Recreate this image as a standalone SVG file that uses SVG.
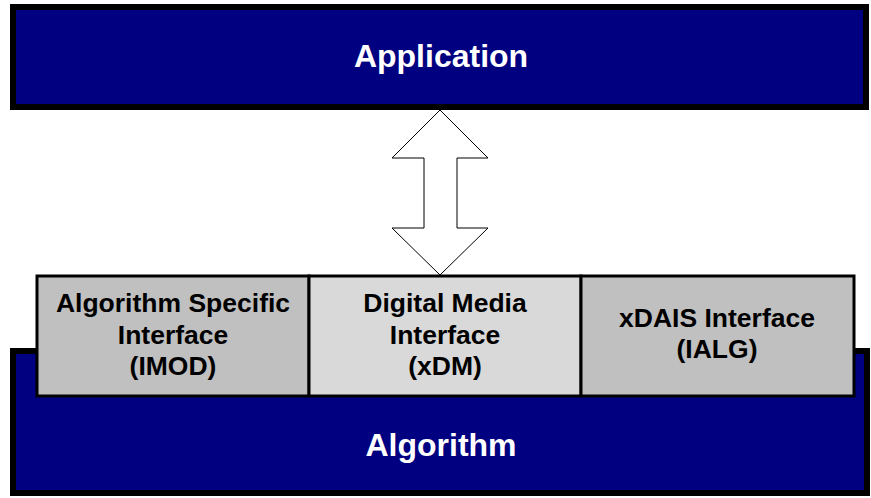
<svg xmlns="http://www.w3.org/2000/svg" width="871" height="498" viewBox="0 0 871 498">
  <style>
    .layer { fill: #000080; stroke: #000000; stroke-width: 6; }
    .iface { stroke: #000000; stroke-width: 3; }
    .gray { fill: #c0c0c0; }
    .light { fill: #d9d9d9; }
    .title { font-family: "Liberation Sans", Arial, sans-serif; font-weight: bold; font-size: 32px; fill: #ffffff; text-anchor: middle; }
    .label { font-family: "Liberation Sans", Arial, sans-serif; font-weight: bold; font-size: 26.5px; fill: #000000; text-anchor: middle; }
    .flow { fill: #ffffff; stroke: #000000; stroke-width: 1; }
  </style>
  <rect width="871" height="498" fill="#ffffff"/>

  <g id="application">
    <rect class="layer" x="13" y="7" width="853" height="100"/>
    <text class="title" x="441" y="67">Application</text>
  </g>

  <g id="algorithm">
    <rect class="layer" x="13" y="351" width="854" height="142"/>
    <text class="title" x="441" y="456">Algorithm</text>
  </g>

  <g id="imod">
    <rect class="iface gray" x="37" y="276" width="272" height="120"/>
    <text class="label" x="173" y="312">Algorithm Specific</text>
    <text class="label" x="173" y="344">Interface</text>
    <text class="label" x="173" y="375">(IMOD)</text>
  </g>

  <g id="xdm">
    <rect class="iface light" x="309" y="276" width="272" height="120"/>
    <text class="label" x="445" y="312">Digital Media</text>
    <text class="label" x="445" y="344">Interface</text>
    <text class="label" x="445" y="375">(xDM)</text>
  </g>

  <g id="ialg">
    <rect class="iface gray" x="581" y="276" width="273" height="120"/>
    <text class="label" x="717" y="327">xDAIS Interface</text>
    <text class="label" x="717" y="358">(IALG)</text>
  </g>

  <g id="connectors">
    <polygon class="flow" points="440,110 488,158 457,158 457,228 488,228 440,275 392,228 424,228 424,158 392,158"/>
  </g>
</svg>
